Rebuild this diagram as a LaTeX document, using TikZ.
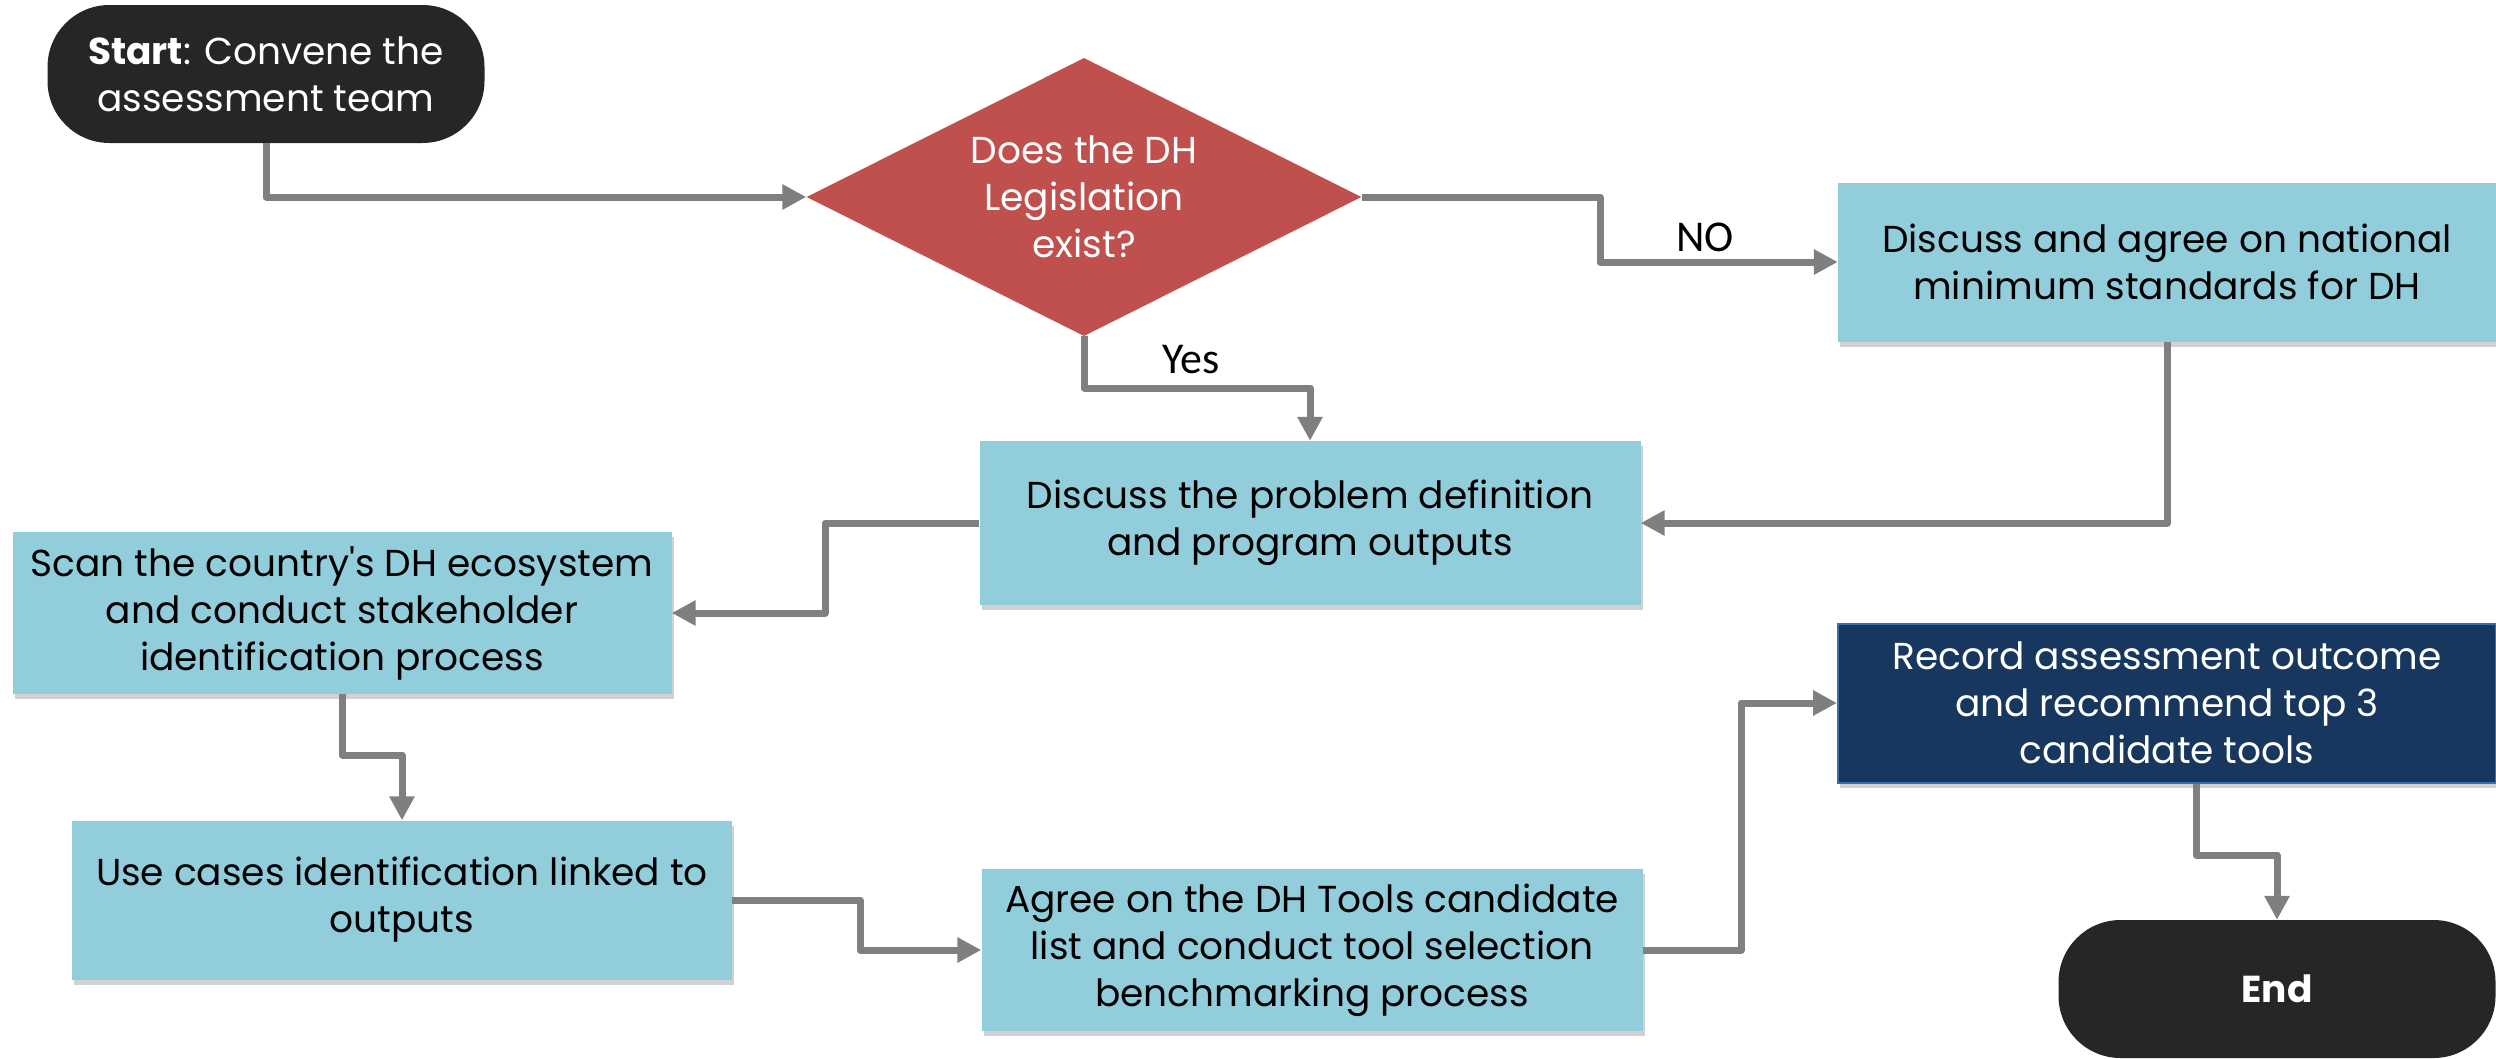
\documentclass[tikz,border=0pt]{standalone}
\usepackage{fontspec}
\setmainfont{Poppins}
\newfontfamily\calfont{Carlito}
\usetikzlibrary{shapes.geometric,arrows.meta,shadows}
\definecolor{boxblue}{HTML}{92CDDC}
\definecolor{navy}{HTML}{17375E}
\definecolor{navyedge}{HTML}{3A6EA8}
\definecolor{termfill}{HTML}{262626}
\definecolor{decfill}{HTML}{C0504D}
\definecolor{linegray}{HTML}{7F7F7F}
\newcommand\boxfont{\fontsize{37.5}{47}\selectfont}
\begin{document}
\begin{tikzpicture}[x=1pt,y=-1pt,
  term/.style={rectangle, rounded corners=62pt, fill=termfill, text=white, align=center,
    minimum width=437pt, minimum height=138pt, inner sep=0pt, font=\boxfont},
  decision/.style={diamond, aspect=2, fill=decfill, text=white, align=center,
    minimum width=555pt, minimum height=278pt, inner sep=0pt, font=\boxfont},
  proc/.style={rectangle, fill=boxblue, text=black, align=center,
    minimum width=660pt, minimum height=161pt, inner sep=0pt, font=\boxfont,
    drop shadow={shadow xshift=2pt, shadow yshift=-5pt, opacity=0.18, fill=black}},
  navybox/.style={proc, fill=navy, draw=navyedge, line width=2pt, text=white},
  conn/.style={draw=linegray, line width=7pt, line join=round,
    -{Triangle[length=24pt,width=24pt]}},
  lbl/.style={font=\calfont\fontsize{44}{50}\selectfont, text=black, inner sep=0pt, anchor=base west}]
\useasboundingbox (0,0) rectangle (2496,1058);

\node[term] (start) at (266,74) {\textbf{Start}: Convene the\\assessment team};
\node[decision] (dia) at (1084,197) {Does the DH\\Legislation\\exist?};
\node[proc, minimum width=658pt, minimum height=159pt] (nobox) at (2167,262) {Discuss and agree on national\\minimum standards for DH};
\node[proc, minimum width=661pt, minimum height=164pt] (prob) at (1310,523) {Discuss the problem definition\\and program outputs};
\node[proc, minimum width=659pt, minimum height=162pt] (scan) at (342,613) {Scan the country\textquotesingle s DH ecosystem\\and conduct stakeholder\\identification process};
\node[proc, minimum width=660pt, minimum height=159pt] (use) at (402,900) {Use cases identification linked to\\outputs};
\node[proc, minimum width=661pt, minimum height=162pt] (agree) at (1312,950) {Agree on the DH Tools candidate\\list and conduct tool selection\\benchmarking process};
\node[navybox, minimum width=658pt, minimum height=159pt] (record) at (2167,703) {Record assessment outcome\\and recommend top 3\\candidate tools};
\node[term] (end) at (2277,989) {\textbf{End}};

\node[lbl] (yes) at (1162,373) {Yes};
\node[lbl] (no) at (1676,251) {NO};

\draw[conn] (start.south) |- (dia.west);
\draw[conn] (dia.east) -- (1600,197) |- (nobox.west);
\draw[conn] (dia.south) -- (1084,388) -| (prob.north);
\draw[conn] (nobox.south) |- (prob.east);
\draw[conn] (prob.west) -- (825,523) |- (scan.east);
\draw[conn] (scan.south) -- (342,755) -| (use.north);
\draw[conn] (use.east) -- (860,900) |- (agree.west);
\draw[conn] (agree.east) -- (1741,950) |- (record.west);
\draw[conn] ([xshift=29pt]record.south) -- (2196,855) -| (end.north);
\end{tikzpicture}
\end{document}
